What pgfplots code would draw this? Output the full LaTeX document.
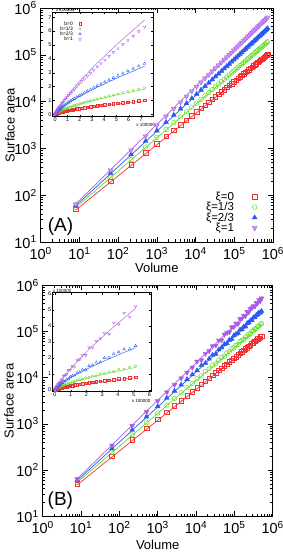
\documentclass[border=0pt]{standalone}
\usepackage{fontspec}
\setmainfont{Liberation Sans}
\usepackage{pgfplots}
\usepackage{pgfplotstable}
\pgfplotsset{compat=1.18}
\definecolor{cR}{RGB}{240,50,50}
\definecolor{cG}{RGB}{100,220,40}
\definecolor{cB}{RGB}{40,90,240}
\definecolor{cP}{RGB}{170,90,230}

\pgfplotstableread{
V a b c d
8 50 55.0 60.0 64.0
64 200 242.4 293.4 341.6
216 450 577.4 742.0 909.5
512 800 1069 1433 1822
1000 1250 1723 2389 3124
1728 1800 2544 3626 4852
2744 2450 3539 5160 7041
4096 3200 4710 7005 9721
5832 4050 6061 9173 12920
8000 5000 7596 11675 16670
10648 6050 9311 14521 20980
13824 7200 11215 17720 25890
17576 8450 13310 21290 31410
21952 9800 15600 25220 37570
27000 11250 18080 29540 44380
32768 12800 20760 34230 51860
39304 14450 23640 39330 60040
46656 16200 26710 44830 68940
54872 18050 29990 50730 78570
64000 20000 33460 57050 88920
74088 22050 37150 63800 100000
85184 24200 41040 70980 111900
97336 26450 45130 78580 124600
110592 28800 49430 86610 138100
125000 31250 53950 95090 152400
140608 33800 58670 104000 167600
157464 36450 63610 113400 183500
175616 39200 68770 123300 200400
195112 42050 74140 133600 218200
216000 45000 79700 144300 236800
238328 48050 85500 155600 256300
262144 51200 91500 167300 276700
287496 54450 97730 179500 298100
314432 57800 104200 192200 320300
343000 61250 110800 205400 343600
373248 64800 117700 219000 367700
405224 68450 124900 233200 392900
438976 72200 132200 248000 419100
474552 76050 139800 263200 446100
512000 80000 147500 278800 474300
551368 84050 155500 295100 503400
592704 88200 163800 311800 533600
636056 92450 172200 329100 564800
681472 96800 180900 346800 597000
729000 101250 189800 365100 630400
}\tabAm

\pgfplotstableread{
V a b c d
8 48 54.6 59.5 64.8
64 192 239.1 288.5 349.7
216 432 567.1 726.2 937.4
1000 1200 1683 2324 3247
8000 4800 7371 11260 17530
27000 10800 17480 28360 46990
64000 19200 32250 54590 94630
125000 30000 51880 90740 162800
216000 43200 76500 137400 253700
343000 58800 106200 195200 369100
512000 76800 141200 264600 510700
729000 97200 181500 345900 680000
}\tabAl

\pgfplotstableread{
V a b c d
8 50 55.0 60.0 64.0
64 200 242.4 293.4 341.6
216 450 577.4 742.0 909.5
512 800 1069 1433 1822
1000 1250 1723 2389 3124
1728 1800 2544 3626 4852
2744 2450 3539 5160 7041
4096 3200 4710 7005 9721
5832 4050 6061 9173 12920
8000 5000 7596 11675 16670
10648 6100 9497 14303 22554
13824 7150 10991 18517 24026
17576 8500 13709 20651 33138
21952 9750 15444 25598 37871
27000 11350 18622 30869 48197
32768 12700 20345 32690 49993
39304 14600 23876 40510 64003
46656 16100 27511 44830 65079
54872 18200 29090 53013 86191
64000 19800 34129 55339 93277
74088 22300 37150 65714 97700
85184 24000 42271 67786 123650
97336 26700 44227 82116 125472
110592 28500 50419 87909 149839
125000 31600 52332 92237 146761
140608 33500 60430 108680 186874
157464 36800 64246 111699 191391
175616 38900 67395 126999 219638
195112 42500 76364 127588 217764
216000 44600 78903 150794 266637
238328 48500 87210 155600 263733
262144 50700 88755 172319 306307
287496 55000 100662 174115 323140
314432 57300 104200 200849 356174
343000 61800 113016 202319 348754
373248 64200 115346 225570 420281
405224 69100 128647 236698 410581
438976 71500 130878 255440 481127
474552 76800 142596 255304 457699
512000 79200 148975 276000 523153
}\tabBm

\pgfplotstableread{
V a b c d
8 48 54.6 59.5 64.8
64 192 239.1 288.5 349.7
216 432 567.1 726.2 937.4
1000 1200 1683 2324 3247
8000 4800 7371 11260 17530
27000 10800 17480 28360 46990
64000 19200 32250 54590 94630
125000 30000 51880 90740 162800
216000 43200 76500 137400 253700
343000 58800 106200 195200 369100
512000 76800 141200 264600 510700
}\tabBl

\begin{document}
\begin{tikzpicture}[x=1pt,y=1pt]
\useasboundingbox (0,0) rectangle (283,557);

% ---------------- Panel A ----------------
\begin{axis}[at={(40.7pt,315pt)}, anchor=south west,
  scale only axis, width=232.3pt, height=234pt,
  xmode=log, ymode=log, xmin=1, xmax=1e6, ymin=10, ymax=1e6,
  tick align=inside, major tick length=5pt, minor tick length=2.5pt,
  axis line style={line width=0.8pt}, tick style={line width=0.5pt, black},
  tick label style={font=\fontsize{14.5}{14.5}\selectfont},
  xticklabel style={yshift=-1.5pt},
  yticklabel style={xshift=-0.5pt},
  label style={font=\fontsize{13}{13}\selectfont},
  xticklabel={10\textsuperscript{\pgfmathparse{int(round(\tick/2.302585093))}\pgfmathresult}},
  yticklabel={10\textsuperscript{\pgfmathparse{int(round(\tick/2.302585093))}\pgfmathresult}},
  xlabel={Volume}, ylabel={Surface area},
  xlabel style={at={(axis description cs:0.5,-0.111)}, anchor=center},
  ylabel style={at={(axis description cs:-0.132,0.5)}, anchor=center},
  legend style={draw=none, fill=none, at={(0.953,0.226)}, anchor=north east,
    font=\fontsize{11.5}{11.5}\selectfont, legend cell align=right, row sep=0pt,
    nodes={inner sep=0.5pt, text height=8.2pt, text depth=1.3pt}},
  legend plot pos=right,
  legend image code/.code={\path (0pt,0pt) (24pt,0pt); \draw[#1, only marks] plot coordinates {(20pt,0pt)};}]
\addplot[cR, line width=0.7pt, forget plot] table[x=V,y=a]{\tabAl};
\addplot[cG, line width=0.7pt, forget plot] table[x=V,y=b]{\tabAl};
\addplot[cB, line width=0.7pt, forget plot] table[x=V,y=c]{\tabAl};
\addplot[cP, line width=0.7pt, forget plot] table[x=V,y=d]{\tabAl};
\addplot[cR, only marks, mark=square, mark size=2.2pt, mark options={line width=0.5pt}] table[x=V,y=a]{\tabAm};
\addlegendentry{ξ=0}
\addplot[cG, only marks, mark=o, mark size=2.3pt, mark options={line width=0.5pt}] table[x=V,y=b]{\tabAm};
\addlegendentry{ξ=1/3}
\addplot[cB, only marks, mark=triangle*, mark size=2.8pt, mark options={line width=0.4pt}] table[x=V,y=c]{\tabAm};
\addlegendentry{ξ=2/3}
\addplot[cP, only marks, mark=triangle*, mark size=2.8pt, mark options={rotate=180, line width=0.4pt, fill=cP!60}] table[x=V,y=d]{\tabAm};
\addlegendentry{ξ=1}
\node[font=\fontsize{19}{19}\selectfont] at (rel axis cs:0.085,0.068) {(A)};
\end{axis}

\begin{axis}[at={(52.7pt,440.3pt)}, anchor=south west,
  scale only axis, width=100.6pt, height=104.4pt, clip=false,
  axis background/.style={fill=white},
  tick align=inside, major tick length=2pt,
  axis line style={line width=0.5pt}, tick style={line width=0.3pt, black},
  tick label style={font=\fontsize{5.5}{5.5}\selectfont, inner sep=1pt},
  scaled ticks=false,
  xmin=-20000, xmax=800000, ymin=-17000, ymax=735000,
  xtick={0,100000,200000,300000,400000,500000,600000,700000},
  xticklabels={0,1,2,3,4,5,6,7},
  ytick={0,100000,200000,300000,400000,500000,600000,700000},
  yticklabels={0,1,2,3,4,5,6,7},
  legend style={draw=none, fill=none, at={(0.32,0.94)}, anchor=north east,
    font=\fontsize{5}{5}\selectfont, legend cell align=right, row sep=0pt,
    nodes={inner sep=0.4pt, text height=3.9pt, text depth=0.6pt}},
  legend plot pos=right,
  legend image code/.code={\path (0pt,0pt) (8pt,0pt); \draw[#1, only marks] plot coordinates {(6.5pt,0pt)};}]
\addplot[cR, line width=0.45pt, forget plot] table[x=V,y=a]{\tabAl};
\addplot[cG, line width=0.45pt, forget plot] table[x=V,y=b]{\tabAl};
\addplot[cB, line width=0.45pt, forget plot] table[x=V,y=c]{\tabAl};
\addplot[cP, line width=0.45pt, forget plot] table[x=V,y=d]{\tabAl};
\addplot[cR, only marks, mark=square, mark size=1.3pt, mark options={line width=0.35pt}] table[x=V,y=a]{\tabAm};
\addlegendentry{b=0}
\addplot[cG, only marks, mark=o, mark size=1.3pt, mark options={line width=0.35pt}] table[x=V,y=b]{\tabAm};
\addlegendentry{b=1/3}
\addplot[cB, only marks, mark=triangle, mark size=1.6pt, mark options={line width=0.35pt}] table[x=V,y=c]{\tabAm};
\addlegendentry{b=2/3}
\addplot[cP, only marks, mark=triangle, mark size=1.6pt, mark options={rotate=180, line width=0.35pt}] table[x=V,y=d]{\tabAm};
\addlegendentry{b=1}
\node[anchor=south west, font=\fontsize{4.5}{4.5}\selectfont, inner sep=0.3pt] at (rel axis cs:0.03,1.0) {x 100000};
\node[anchor=east, font=\fontsize{4.5}{4.5}\selectfont, inner sep=0.3pt] at (rel axis cs:1.02,-0.075) {x 100000};
\end{axis}

% ---------------- Panel B ----------------
\begin{axis}[at={(42.7pt,40.7pt)}, anchor=south west,
  scale only axis, width=230pt, height=231pt,
  xmode=log, ymode=log, xmin=1, xmax=1e6, ymin=10, ymax=1e6,
  tick align=inside, major tick length=5pt, minor tick length=2.5pt,
  axis line style={line width=0.8pt}, tick style={line width=0.5pt, black},
  tick label style={font=\fontsize{14.5}{14.5}\selectfont},
  xticklabel style={yshift=-1.5pt},
  yticklabel style={xshift=-0.5pt},
  label style={font=\fontsize{13}{13}\selectfont},
  xticklabel={10\textsuperscript{\pgfmathparse{int(round(\tick/2.302585093))}\pgfmathresult}},
  yticklabel={10\textsuperscript{\pgfmathparse{int(round(\tick/2.302585093))}\pgfmathresult}},
  xlabel={Volume}, ylabel={Surface area},
  xlabel style={at={(axis description cs:0.5,-0.124)}, anchor=center},
  ylabel style={at={(axis description cs:-0.147,0.5)}, anchor=center}]
\addplot[cR, line width=0.7pt, forget plot] table[x=V,y=a]{\tabBl};
\addplot[cG, line width=0.7pt, forget plot] table[x=V,y=b]{\tabBl};
\addplot[cB, line width=0.7pt, forget plot] table[x=V,y=c]{\tabBl};
\addplot[cP, line width=0.7pt, forget plot] table[x=V,y=d]{\tabBl};
\addplot[cR, only marks, mark=square, mark size=2.2pt, mark options={line width=0.5pt}] table[x=V,y=a]{\tabBm};
\addplot[cG, only marks, mark=o, mark size=2.3pt, mark options={line width=0.5pt}] table[x=V,y=b]{\tabBm};
\addplot[cB, only marks, mark=triangle*, mark size=2.8pt, mark options={line width=0.4pt}] table[x=V,y=c]{\tabBm};
\addplot[cP, only marks, mark=triangle*, mark size=2.8pt, mark options={rotate=180, line width=0.4pt}] table[x=V,y=d]{\tabBm};
\node[font=\fontsize{19}{19}\selectfont] at (rel axis cs:0.077,0.066) {(B)};
\end{axis}

\begin{axis}[at={(52.3pt,165.3pt)}, anchor=south west,
  scale only axis, width=98.7pt, height=99pt, clip=false,
  axis background/.style={fill=white},
  tick align=inside, major tick length=2pt,
  axis line style={line width=0.5pt}, tick style={line width=0.3pt, black},
  tick label style={font=\fontsize{5.5}{5.5}\selectfont, inner sep=1pt},
  scaled ticks=false,
  xmin=-17000, xmax=610000, ymin=-10600, ymax=608000,
  xtick={0,100000,200000,300000,400000,500000,600000},
  xticklabels={0,1,2,3,4,5,6},
  ytick={0,100000,200000,300000,400000,500000,600000},
  yticklabels={0,1,2,3,4,5,6}]
\addplot[cR, line width=0.45pt] table[x=V,y=a]{\tabBl};
\addplot[cG, line width=0.45pt] table[x=V,y=b]{\tabBl};
\addplot[cB, line width=0.45pt] table[x=V,y=c]{\tabBl};
\addplot[cP, line width=0.45pt] table[x=V,y=d]{\tabBl};
\addplot[cR, only marks, mark=square, mark size=1.3pt, mark options={line width=0.35pt}] table[x=V,y=a]{\tabBm};
\addplot[cG, only marks, mark=o, mark size=1.3pt, mark options={line width=0.35pt}] table[x=V,y=b]{\tabBm};
\addplot[cB, only marks, mark=triangle, mark size=1.6pt, mark options={line width=0.35pt}] table[x=V,y=c]{\tabBm};
\addplot[cP, only marks, mark=triangle, mark size=1.6pt, mark options={rotate=180, line width=0.35pt}] table[x=V,y=d]{\tabBm};
\node[anchor=south west, font=\fontsize{4.5}{4.5}\selectfont, inner sep=0.3pt] at (rel axis cs:0.0,1.0) {x 100000};
\node[anchor=north east, font=\fontsize{4.5}{4.5}\selectfont, inner sep=0.3pt] at (rel axis cs:1.0,-0.075) {x 100000};
\end{axis}
\end{tikzpicture}
\end{document}
